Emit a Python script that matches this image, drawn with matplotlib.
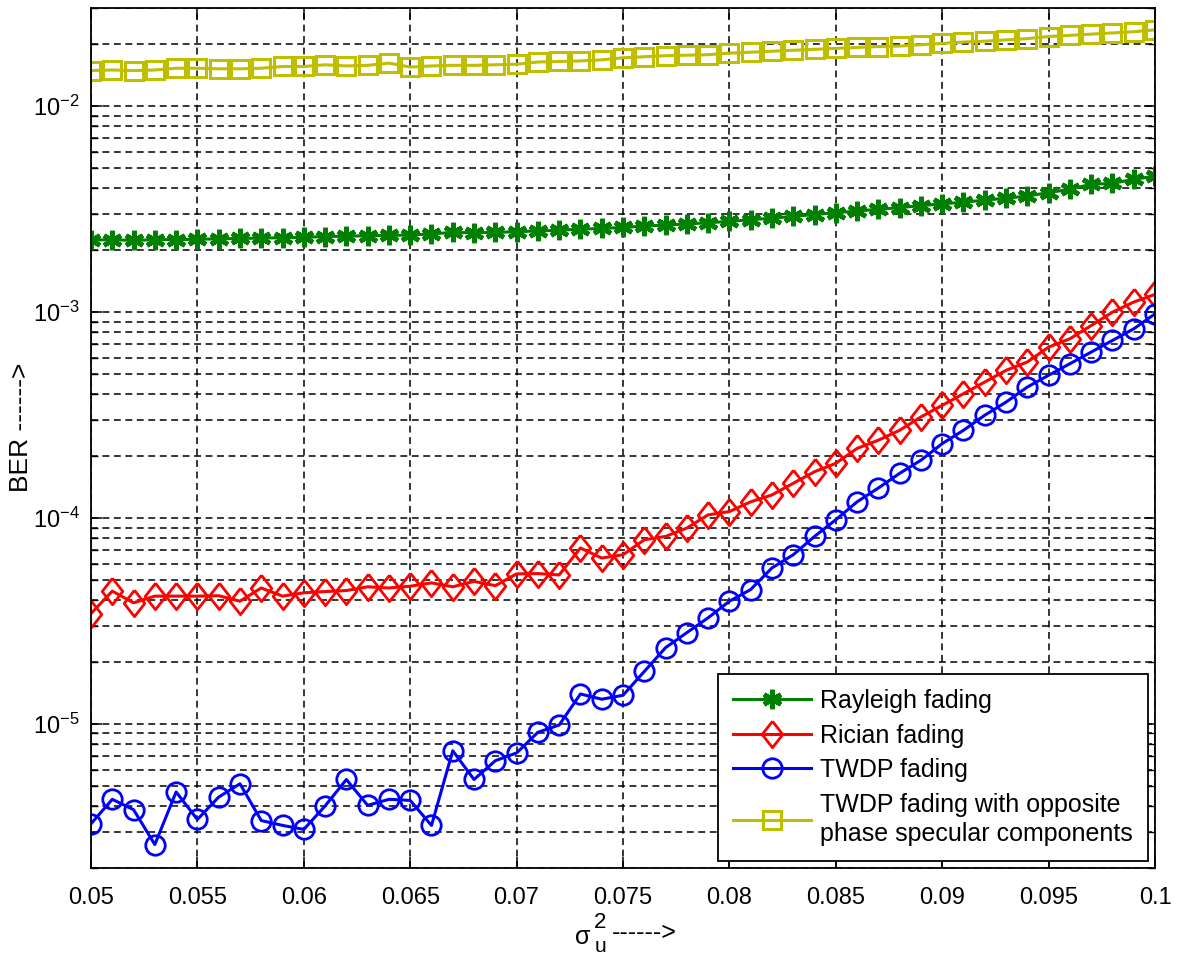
import numpy as np
import matplotlib
matplotlib.use("Agg")
import matplotlib.pyplot as plt
from matplotlib.ticker import LogLocator, FixedLocator, NullFormatter

plt.rcParams['font.family'] = ['Liberation Sans', 'DejaVu Sans']
plt.rcParams['mathtext.fontset'] = 'custom'
plt.rcParams['mathtext.rm'] = 'Liberation Sans'
plt.rcParams['mathtext.it'] = 'Liberation Sans:italic'
plt.rcParams['mathtext.sf'] = 'Liberation Sans'

# ---------------- data ----------------
sigma_u2 = [round(0.05 + 0.001 * i, 3) for i in range(51)]

rayleigh = [0.00224, 0.00225, 0.00223, 0.00225, 0.00225, 0.00226, 0.00227, 0.00228, 0.00229, 0.00230,
            0.00231, 0.00233, 0.00234, 0.00235, 0.00236, 0.00237, 0.00240, 0.00244, 0.00243, 0.00244,
            0.00246, 0.00248, 0.00250, 0.00253, 0.00255, 0.00258, 0.00262, 0.00265, 0.00268, 0.00272,
            0.00276, 0.00281, 0.00286, 0.00292, 0.00298, 0.00304, 0.00310, 0.00316, 0.00322, 0.00329,
            0.00336, 0.00342, 0.00350, 0.00358, 0.00366, 0.00381, 0.00395, 0.00418, 0.00422, 0.00442,
            0.00458]

rician = [3.44e-5, 4.42e-5, 3.88e-5, 4.18e-5, 4.18e-5, 4.18e-5, 4.20e-5, 3.95e-5, 4.58e-5, 4.18e-5,
          4.34e-5, 4.40e-5, 4.45e-5, 4.64e-5, 4.58e-5, 4.67e-5, 4.85e-5, 4.64e-5, 4.93e-5, 4.70e-5,
          5.36e-5, 5.38e-5, 5.30e-5, 7.16e-5, 6.40e-5, 6.64e-5, 7.85e-5, 8.15e-5, 8.95e-5, 1.037e-4,
          1.076e-4, 1.20e-4, 1.296e-4, 1.476e-4, 1.68e-4, 1.845e-4, 2.18e-4, 2.39e-4, 2.67e-4, 3.10e-4,
          3.53e-4, 4.02e-4, 4.58e-4, 5.22e-4, 5.73e-4, 6.77e-4, 7.43e-4, 8.61e-4, 1.0e-3, 1.12e-3,
          1.22e-3]

twdp = [3.28e-6, 4.31e-6, 3.84e-6, 2.60e-6, 4.68e-6, 3.44e-6, 4.42e-6, 5.13e-6, 3.40e-6, 3.22e-6,
        3.08e-6, 4.00e-6, 5.38e-6, 4.03e-6, 4.31e-6, 4.26e-6, 3.22e-6, 7.42e-6, 5.38e-6, 6.64e-6,
        7.24e-6, 9.12e-6, 9.89e-6, 1.40e-5, 1.32e-5, 1.38e-5, 1.80e-5, 2.35e-5, 2.78e-5, 3.28e-5,
        3.95e-5, 4.50e-5, 5.73e-5, 6.64e-5, 8.15e-5, 9.82e-5, 1.20e-4, 1.40e-4, 1.65e-4, 1.91e-4,
        2.30e-4, 2.67e-4, 3.16e-4, 3.66e-4, 4.33e-4, 4.94e-4, 5.62e-4, 6.40e-4, 7.29e-4, 8.30e-4,
        9.82e-4]

twdp_opp = [0.0149, 0.0150, 0.0149, 0.0150, 0.0153, 0.0153, 0.0152, 0.0152, 0.0153, 0.0156,
            0.0156, 0.0159, 0.0157, 0.0158, 0.0162, 0.0155, 0.0157, 0.0158, 0.0158, 0.0159,
            0.0160, 0.0164, 0.0165, 0.0166, 0.0168, 0.0172, 0.0174, 0.0176, 0.0177, 0.0178,
            0.0181, 0.0183, 0.0185, 0.0187, 0.0189, 0.0191, 0.0193, 0.0195, 0.0196, 0.0199,
            0.0202, 0.0205, 0.0207, 0.0210, 0.0213, 0.0218, 0.0221, 0.0224, 0.0227, 0.0230,
            0.0235]

labels = ["Rayleigh fading", "Rician fading", "TWDP fading",
          "TWDP fading with opposite\nphase specular components"]
xtick_vals = [0.05, 0.055, 0.06, 0.065, 0.07, 0.075, 0.08, 0.085, 0.09, 0.095, 0.1]
xtick_labels = ["0.05", "0.055", "0.06", "0.065", "0.07", "0.075", "0.08", "0.085", "0.09", "0.095", "0.1"]

# ---------------- figure ----------------
W, H = 1182, 958
fig = plt.figure(figsize=(W / 100, H / 100), dpi=100)
L, R, T, B = 91, 1155, 8, 868
ax = fig.add_axes([L / W, 1 - B / H, (R - L) / W, (B - T) / H])

diamond = [(0, 1), (0.78, 0), (0, -1), (-0.78, 0), (0, 1)]

ax.plot(sigma_u2, rayleigh, color='#008000', lw=2.2, marker=(6, 2, 0), ms=14, mew=3.4,
        label=labels[0])
ax.plot(sigma_u2, rician, color='#ff0000', lw=2.2, marker=diamond, ms=19, mew=2.0,
        mfc='none', label=labels[1])
ax.plot(sigma_u2, twdp, color='#0000ff', lw=2.2, marker='o', ms=14, mew=2.0,
        mfc='none', label=labels[2])
ax.plot(sigma_u2, twdp_opp, color='#bfbf00', lw=2.2, marker='s', ms=13, mew=2.2,
        mfc='none', label=labels[3])

ax.set_yscale('log')
ax.set_xlim(0.05, 0.1)
ax.set_ylim(2e-6, 3e-2)
ax.xaxis.set_major_locator(FixedLocator(xtick_vals))
ax.set_xticklabels(xtick_labels)
ax.yaxis.set_major_locator(LogLocator(base=10, numticks=20))
ax.yaxis.set_minor_locator(LogLocator(base=10, subs=np.arange(2, 10), numticks=20))
ax.yaxis.set_minor_formatter(NullFormatter())

ax.tick_params(which='both', direction='in', top=True, right=True, labelsize=17,
               colors='black', pad=8)
ax.tick_params(which='major', length=8, width=1.1)
ax.tick_params(which='minor', length=5, width=1.0)
ax.tick_params(axis='x', pad=14)

gridstyle = dict(color='black', linestyle=(0, (4.5, 3)), linewidth=1.1)
ax.grid(True, which='major', axis='both', **gridstyle)
ax.grid(True, which='minor', axis='y', **gridstyle)
ax.set_axisbelow(True)

for s in ax.spines.values():
    s.set_linewidth(1.3)
    s.set_color('black')

# y label
ax.set_ylabel("BER ------>", fontsize=19)
ax.yaxis.set_label_coords((33 - L) / (R - L), (B - 427) / (B - T))

# x label composed of pieces: sigma with full-size sub/superscripts
def px(x, y):
    return x / W, 1 - y / H

fig.text(*px(583, 937), "\u03c3", fontsize=18, ha='center', va='center')
fig.text(*px(600, 922), "2", fontsize=16, ha='center', va='center')
fig.text(*px(600, 952), "u", fontsize=15, ha='center', va='baseline')
fig.text(*px(612, 933), "------>", fontsize=18, ha='left', va='center')

leg = ax.legend(loc='lower right', fontsize=18, frameon=True, fancybox=False,
                framealpha=1, edgecolor='black', borderaxespad=0.27,
                handlelength=3.1, handletextpad=0.4, labelspacing=0.42,
                borderpad=0.6, numpoints=1)
leg.get_frame().set_linewidth(1.3)
for t in leg.get_texts():
    t.set_linespacing(1.3)

fig.savefig("out.png", dpi=100)
